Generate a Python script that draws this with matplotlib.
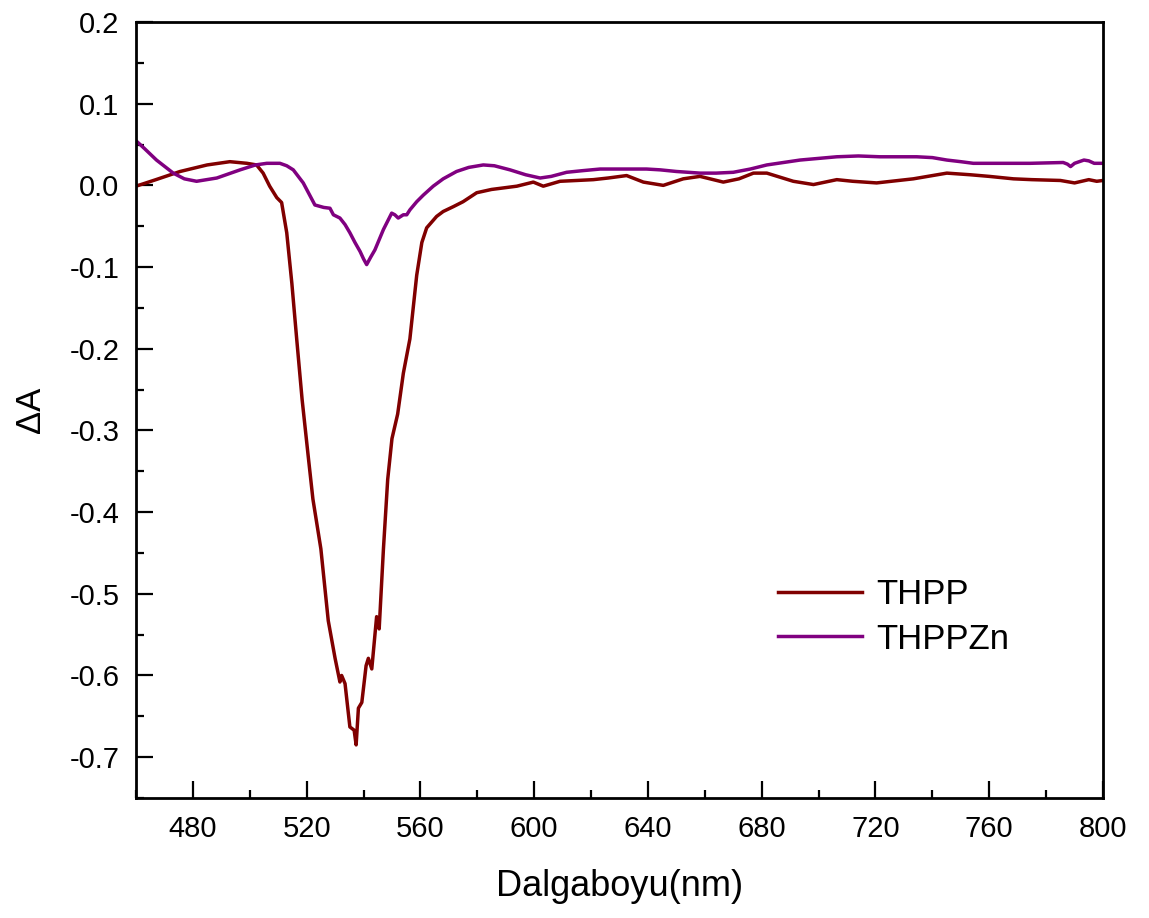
import matplotlib
matplotlib.use("Agg")
import matplotlib.pyplot as plt
from matplotlib.ticker import MultipleLocator, FormatStrFormatter

# THPP spectrum (wavelength nm, delta A)
thpp_x = [460, 467, 475.5, 485, 493, 499, 502.4, 504.7, 507, 509.5, 511.2, 513, 514.8,
          516.5, 518.4, 520.5, 522.2, 525, 527.6, 530, 531.7, 532.3, 533.5, 535.2, 536.7,
          537.4, 538.2, 539.4, 540.9, 541.7, 542.9, 544.6, 545.5, 547, 548.5, 550, 552,
          554, 556.3, 558.7, 560.5, 562.2, 565.7, 568, 571.6, 575, 579.8, 585, 593.9,
          599.7, 603.2, 609.1, 615, 620.8, 626, 632.5, 638.4, 645.4, 652.4, 658.3, 666.5,
          672, 677.1, 681.8, 691.1, 698.2, 706.4, 712, 720.4, 733.3, 745.1, 753.3, 760,
          768.5, 775, 785, 790, 795, 797.8, 800]
thpp_y = [-0.001, 0.007, 0.017, 0.025, 0.029, 0.027, 0.025, 0.015, -0.001, -0.015, -0.021,
          -0.058, -0.12, -0.188, -0.262, -0.33, -0.384, -0.445, -0.533, -0.579, -0.608,
          -0.600, -0.610, -0.663, -0.667, -0.685, -0.640, -0.633, -0.588, -0.579, -0.592,
          -0.528, -0.543, -0.445, -0.36, -0.31, -0.28, -0.23, -0.188, -0.11, -0.07, -0.052,
          -0.038, -0.032, -0.026, -0.02, -0.009, -0.005, -0.001, 0.004, -0.001, 0.005,
          0.006, 0.007, 0.009, 0.012, 0.004, 0.000, 0.008, 0.011, 0.004, 0.008, 0.015,
          0.015, 0.005, 0.001, 0.007, 0.005, 0.003, 0.008, 0.015, 0.013, 0.011, 0.008,
          0.007, 0.006, 0.003, 0.007, 0.005, 0.006]

# THPPZn spectrum
zn_x = [460.2, 463, 467.2, 473.1, 477, 481.3, 488.4, 496.6, 502, 506, 510.6, 513, 515.3,
        518.8, 522.9, 526, 528.2, 529.4, 531.7, 533.5, 535.2, 537, 538.8, 540, 541.1,
        542.5, 544, 547, 549.9, 551, 552.2, 554, 555.2, 556.3, 558.7, 561, 564.5, 568,
        572.7, 577, 582.1, 586, 591.5, 597, 602.1, 606, 611.4, 617, 623.2, 632, 639.5,
        644.3, 650, 658.3, 664, 670, 676, 681.8, 693.5, 706.4, 714, 721.6, 734.5, 740,
        745.1, 750, 754.4, 765, 774.4, 786, 787.5, 788.6, 790, 793.3, 795, 796.9, 800]
zn_y = [0.054, 0.045, 0.031, 0.015, 0.008, 0.005, 0.009, 0.019, 0.025, 0.027, 0.027,
        0.024, 0.019, 0.003, -0.024, -0.027, -0.028, -0.036, -0.040, -0.048, -0.058,
        -0.07, -0.081, -0.09, -0.097, -0.088, -0.079, -0.054, -0.034, -0.036, -0.040,
        -0.036, -0.036, -0.030, -0.020, -0.012, -0.001, 0.008, 0.017, 0.022, 0.025,
        0.024, 0.019, 0.013, 0.009, 0.011, 0.016, 0.018, 0.020, 0.020, 0.020, 0.019,
        0.017, 0.015, 0.015, 0.016, 0.020, 0.025, 0.031, 0.035, 0.036, 0.035, 0.035,
        0.034, 0.031, 0.029, 0.027, 0.027, 0.027, 0.028, 0.026, 0.023, 0.027, 0.031,
        0.030, 0.027, 0.027]

plt.rcParams['font.family'] = ['Liberation Sans', 'DejaVu Sans']
plt.rcParams['axes.unicode_minus'] = False

fig = plt.figure(figsize=(11.49, 9.18), dpi=100)
ax = fig.add_axes([136 / 1149, 1 - 798 / 918, (1103 - 136) / 1149, (798 - 22) / 918])

ax.plot(thpp_x, thpp_y, color='#800000', lw=2.5, label='THPP')
ax.plot(zn_x, zn_y, color='#800080', lw=2.5, label='THPPZn')

ax.set_xlim(460, 800)
ax.set_ylim(-0.75, 0.2)
ax.xaxis.set_major_locator(MultipleLocator(40))
ax.xaxis.set_minor_locator(MultipleLocator(20))
ax.yaxis.set_major_locator(MultipleLocator(0.1))
ax.yaxis.set_minor_locator(MultipleLocator(0.05))
ax.yaxis.set_major_formatter(FormatStrFormatter('%.1f'))

ax.tick_params(which='both', direction='in', top=False, right=False, labelsize=21, pad=12, width=1.6)
ax.tick_params(which='major', length=12)
ax.tick_params(which='minor', length=6)
for s in ax.spines.values():
    s.set_linewidth(2)

ax.set_xlabel('Dalgaboyu(nm)', fontsize=26, labelpad=19)
ax.set_ylabel('ΔA', fontsize=25, labelpad=16)

ax.legend(loc='center left', bbox_to_anchor=(761 / 1149, 1 - 617 / 918),
          bbox_transform=fig.transFigure, frameon=False, fontsize=25,
          handlelength=2.4, handletextpad=0.43, labelspacing=0.32, borderpad=0)

fig.savefig('out.png', dpi=100)
